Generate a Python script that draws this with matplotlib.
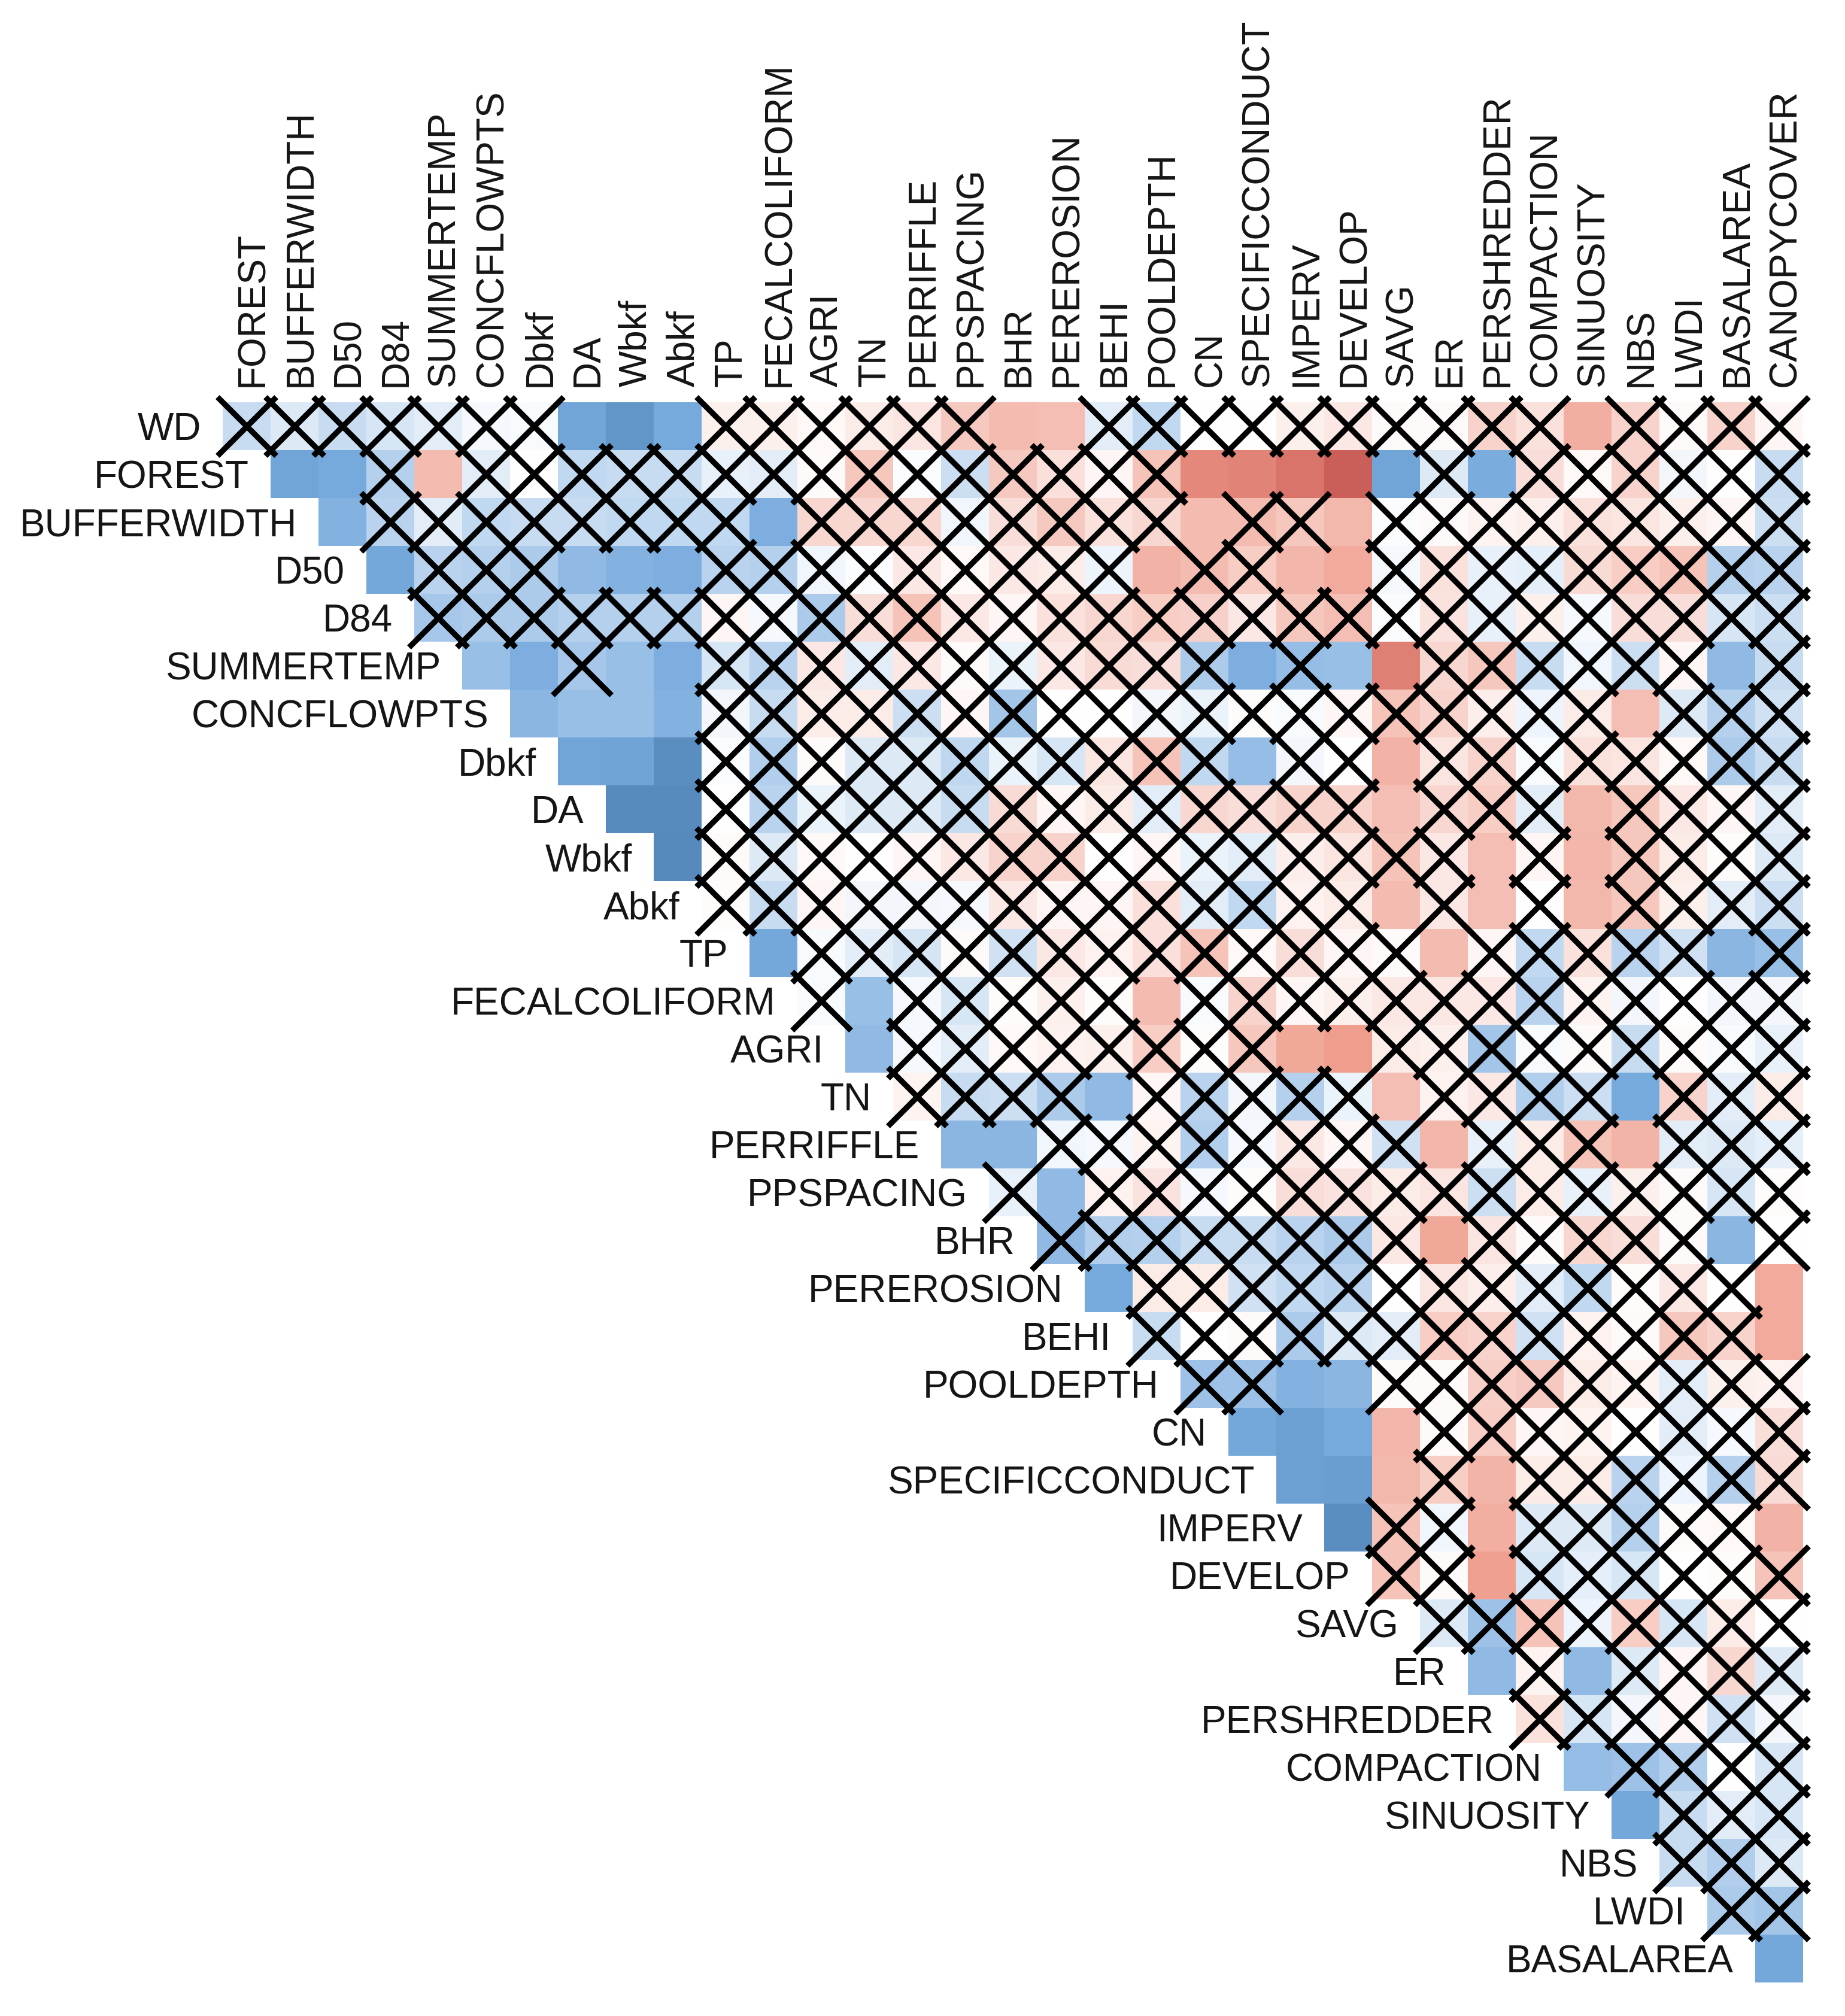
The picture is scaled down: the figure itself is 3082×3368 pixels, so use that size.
import numpy as np
import matplotlib
matplotlib.use("Agg")
import matplotlib.pyplot as plt
from matplotlib.colors import LinearSegmentedColormap

# Row variables run top to bottom; column variables run left to right.
row_labels = ["WD", "FOREST", "BUFFERWIDTH", "D50", "D84", "SUMMERTEMP", "CONCFLOWPTS",
              "Dbkf", "DA", "Wbkf", "Abkf", "TP", "FECALCOLIFORM", "AGRI", "TN", "PERRIFFLE",
              "PPSPACING", "BHR", "PEREROSION", "BEHI", "POOLDEPTH", "CN", "SPECIFICCONDUCT",
              "IMPERV", "DEVELOP", "SAVG", "ER", "PERSHREDDER", "COMPACTION", "SINUOSITY",
              "NBS", "LWDI", "BASALAREA"]
col_labels = row_labels[1:] + ["CANOPYCOVER"]

# Upper-triangle correlations: row i holds columns i..32
r00 = [.20,.12,.20,.14,.10,.03,.02,.55,.70,.50,-.08,-.08,-.04,-.10,-.13,-.27,-.33,-.32,.10,.22,.00,-.01,-.08,-.12,-.03,-.03,-.22,-.15,-.40,-.22,-.03,-.22,-.05]
r01 = [.55,.50,.27,-.33,.10,.00,.22,.20,.20,.08,.10,-.03,-.28,.01,.18,-.27,-.16,-.05,-.30,-.60,-.63,-.72,-.85,.55,.12,.48,-.17,-.04,-.22,.04,.00,.20]
r02 = [.45,.25,.10,.22,.20,.20,.22,.22,.22,.47,-.20,-.20,-.20,.05,-.17,-.27,-.15,-.20,-.33,-.33,-.28,-.34,.01,-.03,-.06,-.08,-.15,-.13,-.08,-.05,.18]
r03 = [.52,.25,.27,.30,.40,.45,.47,.25,.27,.05,.01,-.12,-.04,-.12,-.10,.06,-.38,-.33,-.25,-.36,-.42,.03,-.15,.08,.09,-.18,-.25,-.30,.27,.25]
r04 = [.32,.30,.30,.27,.27,.27,-.05,.03,.30,-.17,-.30,-.12,-.05,-.15,-.20,-.25,-.23,-.12,-.28,-.32,.01,-.14,.08,-.08,.03,-.17,-.17,.15,.18]
r05 = [.37,.47,.32,.37,.47,.15,.25,-.12,.10,-.12,-.03,.07,-.12,-.18,-.17,.30,.47,.38,.37,-.65,-.20,-.28,.20,.05,.18,-.05,.40,.20]
r06 = [.42,.37,.37,.45,.04,.20,-.10,-.10,.18,-.05,.33,.00,.00,.04,.07,-.02,.02,-.05,-.30,-.22,-.09,.06,-.10,-.32,.12,.27,.17]
r07 = [.55,.57,.78,.01,.28,-.03,.12,.12,.23,.07,.15,-.13,-.30,.22,.38,.04,.00,-.38,-.13,-.22,.02,-.15,-.13,-.04,.30,.20]
r08 = [.80,.80,.00,.25,.07,.13,.13,.20,-.18,-.05,-.10,.10,-.20,-.17,-.22,-.22,-.32,-.20,-.25,.10,-.35,-.28,-.12,-.05,.10]
r09 = [.82,-.03,.12,-.04,.00,-.05,-.12,-.22,-.22,.00,-.05,.07,.10,-.09,-.13,-.30,-.12,-.32,-.05,-.36,-.28,-.10,-.02,.12]
r10 = [-.02,.20,-.05,.04,.04,.03,-.12,-.05,-.05,-.16,.10,.22,-.07,-.10,-.33,-.12,-.32,.00,-.34,-.28,-.08,.10,.18]
r11 = [.52,.02,.10,.16,-.03,.17,-.12,-.07,-.16,-.30,-.04,-.17,-.05,-.03,-.33,-.05,.22,-.15,.25,.17,.42,.37]
r12 = [.02,.37,.03,.14,-.02,-.08,-.02,-.33,.02,-.22,-.05,-.08,-.12,-.12,-.12,.25,-.06,.04,.00,.04,.04]
r13 = [.40,.03,.10,-.04,-.07,-.08,-.25,-.02,-.28,-.43,-.48,-.10,-.08,.33,.02,-.03,.20,-.03,.02,.08]
r14 = [-.06,.20,.18,.30,.40,-.05,.25,.04,.27,.07,-.32,-.07,-.12,.28,.18,.50,-.22,.10,-.10]
r15 = [.42,.42,.05,.03,-.06,.28,.03,-.12,-.05,.17,-.36,.08,-.10,-.30,-.37,.10,.12,.09]
r16 = [.08,.40,-.07,-.14,.03,-.02,-.17,-.14,-.10,-.13,.18,-.10,.08,-.08,-.03,.15,-.02]
r17 = [.40,.28,.27,.20,.20,.25,.30,-.12,-.43,-.13,-.03,-.20,-.17,-.03,.42,.00]
r18 = [.50,-.10,-.10,.17,.22,.25,.00,-.13,-.09,.10,.22,-.02,-.12,.00,-.42]
r19 = [.20,.00,-.03,.30,.12,.10,-.25,-.22,.17,-.07,-.03,-.28,-.22,-.42]
r20 = [.35,.35,.45,.42,-.03,-.03,-.24,-.27,-.10,-.06,.10,-.08,-.07]
r21 = [.52,.60,.50,-.36,-.03,-.25,-.05,-.06,.00,.10,.03,-.17]
r22 = [.60,.62,-.34,-.25,-.37,-.10,-.10,.25,.06,.27,-.18]
r23 = [.78,-.30,.05,-.40,.12,.12,.27,-.03,-.04,-.38]
r24 = [-.30,-.03,-.47,.14,.09,.14,-.01,-.02,-.30]
r25 = [.12,.35,-.30,.06,-.25,.14,-.10,-.01]
r26 = [.40,-.06,.40,.12,-.05,-.20,.12]
r27 = [-.15,.14,.04,-.05,.17,.04]
r28 = [.38,.35,.28,-.01,.15]
r29 = [.52,.20,.10,.14]
r30 = [.20,.28,.13]
r31 = [.30,.33]
r32 = [.52]
rows = [r00,r01,r02,r03,r04,r05,r06,r07,r08,r09,r10,r11,r12,r13,r14,r15,r16,
        r17,r18,r19,r20,r21,r22,r23,r24,r25,r26,r27,r28,r29,r30,r31,r32]

# Column indices of significant cells in each row (these carry no cross)
significant = [
    [7,8,9,16,17,28], [1,2,4,20,21,22,23,24,26], [2,11,20,23], [3,7,8,9,19,22,23], [],
    [5,6,8,9,21,23,24,31], [6,7,8,9,29], [7,8,9,21,24], [8,9,24,28], [9,26,28],
    [24,26,28], [11,25,31], [13,19], [13,22,23], [18,24,29], [15,16,25,29], [17],
    [25,31], [18,32], [32], [22,23], [21,22,23,24], [22,23,24,26], [23,26,32], [26],
    [], [26,28], [], [28], [29], [], [], [32],
]

palette = ["#BB4444", "#EE9988", "#FFFFFF", "#77AADD", "#4477AA"]

W, H = 3082, 3368
n = len(col_labels)
matrix = np.full((n, n), np.nan)
for i, vals in enumerate(rows):
    matrix[i, i:i + len(vals)] = vals

cross_x, cross_y = [], []
for i, vals in enumerate(rows):
    for c in range(i, i + len(vals)):
        if c not in significant[i]:
            cross_x.append(c + .5)
            cross_y.append(i + .5)

fig = plt.figure(figsize=(W / 100, H / 100), dpi=100, facecolor="white")
ax = fig.add_axes([372 / W, 1 - 3312 / H, 2640 / W, 2640 / H])
cmap = LinearSegmentedColormap.from_list("rb", palette, N=200)
cmap.set_bad((1, 1, 1, 0))
ax.pcolormesh(np.arange(n + 1), np.arange(n + 1), np.ma.masked_invalid(matrix),
              cmap=cmap, vmin=-1, vmax=1, linewidth=0, antialiased=False, zorder=1)
ax.scatter(cross_x, cross_y, marker="x", s=5000, c="black", linewidths=6.8, zorder=2, clip_on=False)
ax.set_xlim(0, n)
ax.set_ylim(n, 0)
ax.axis("off")

font = dict(family="Liberation Sans", fontsize=46, color="#151515")
for c, lab in enumerate(col_labels):
    ax.annotate(lab, xy=(c + .5, 0), xytext=(10, 26), textcoords="offset pixels",
                rotation=90, ha="center", va="bottom", **font)
for i, lab in enumerate(row_labels):
    ax.annotate(lab, xy=(i, i + .5), xytext=(-36, -6), textcoords="offset pixels",
                ha="right", va="center", **font)

fig.savefig("out.png", dpi=100, facecolor="white")
